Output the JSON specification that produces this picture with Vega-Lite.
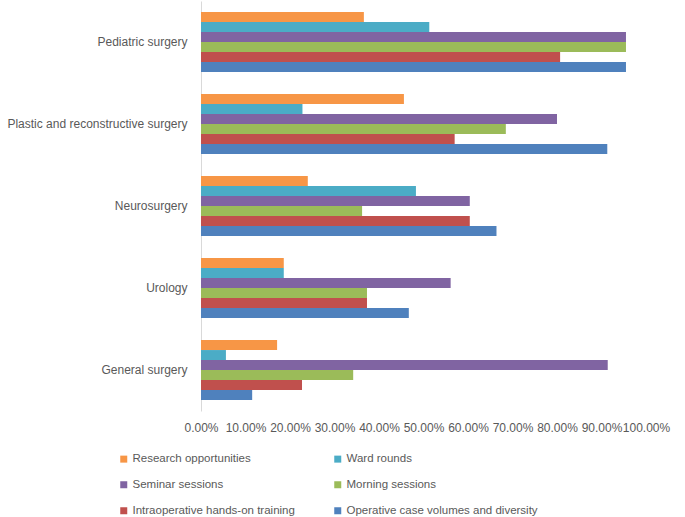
{
  "$schema": "https://vega.github.io/schema/vega-lite/v6.json",
  "width": 445,
  "height": 410,
  "autosize": {"type": "none"},
  "padding": {"left": 201, "top": 1, "right": 39, "bottom": 106},
  "config": {
    "font": "Liberation Sans",
    "view": {"stroke": null},
    "axis": {"labelColor": "#595959", "labelFont": "Liberation Sans", "labelFontSize": 12, "labelLimit": 0},
    "legend": {"labelColor": "#595959", "labelFont": "Liberation Sans", "labelFontSize": 11.5, "labelLimit": 0}
  },
  "data": {
    "values": [
      {"specialty": "Pediatric surgery", "item": "Research opportunities", "value": 0.366},
      {"specialty": "Pediatric surgery", "item": "Ward rounds", "value": 0.513},
      {"specialty": "Pediatric surgery", "item": "Seminar sessions", "value": 0.955},
      {"specialty": "Pediatric surgery", "item": "Morning sessions", "value": 0.955},
      {"specialty": "Pediatric surgery", "item": "Intraoperative hands-on training", "value": 0.807},
      {"specialty": "Pediatric surgery", "item": "Operative case volumes and diversity", "value": 0.955},
      {"specialty": "Plastic and reconstructive surgery", "item": "Research opportunities", "value": 0.456},
      {"specialty": "Plastic and reconstructive surgery", "item": "Ward rounds", "value": 0.228},
      {"specialty": "Plastic and reconstructive surgery", "item": "Seminar sessions", "value": 0.800},
      {"specialty": "Plastic and reconstructive surgery", "item": "Morning sessions", "value": 0.685},
      {"specialty": "Plastic and reconstructive surgery", "item": "Intraoperative hands-on training", "value": 0.570},
      {"specialty": "Plastic and reconstructive surgery", "item": "Operative case volumes and diversity", "value": 0.913},
      {"specialty": "Neurosurgery", "item": "Research opportunities", "value": 0.240},
      {"specialty": "Neurosurgery", "item": "Ward rounds", "value": 0.483},
      {"specialty": "Neurosurgery", "item": "Seminar sessions", "value": 0.604},
      {"specialty": "Neurosurgery", "item": "Morning sessions", "value": 0.362},
      {"specialty": "Neurosurgery", "item": "Intraoperative hands-on training", "value": 0.604},
      {"specialty": "Neurosurgery", "item": "Operative case volumes and diversity", "value": 0.664},
      {"specialty": "Urology", "item": "Research opportunities", "value": 0.186},
      {"specialty": "Urology", "item": "Ward rounds", "value": 0.186},
      {"specialty": "Urology", "item": "Seminar sessions", "value": 0.561},
      {"specialty": "Urology", "item": "Morning sessions", "value": 0.373},
      {"specialty": "Urology", "item": "Intraoperative hands-on training", "value": 0.373},
      {"specialty": "Urology", "item": "Operative case volumes and diversity", "value": 0.467},
      {"specialty": "General surgery", "item": "Research opportunities", "value": 0.171},
      {"specialty": "General surgery", "item": "Ward rounds", "value": 0.056},
      {"specialty": "General surgery", "item": "Seminar sessions", "value": 0.914},
      {"specialty": "General surgery", "item": "Morning sessions", "value": 0.342},
      {"specialty": "General surgery", "item": "Intraoperative hands-on training", "value": 0.227},
      {"specialty": "General surgery", "item": "Operative case volumes and diversity", "value": 0.115}
    ]
  },
  "mark": {"type": "bar"},
  "encoding": {
    "y": {
      "field": "specialty",
      "type": "nominal",
      "sort": ["Pediatric surgery", "Plastic and reconstructive surgery", "Neurosurgery", "Urology", "General surgery"],
      "scale": {"paddingInner": 0.27, "paddingOuter": 0.135},
      "axis": {"title": null, "ticks": false, "labelPadding": 14, "domainColor": "#d9d9d9", "domainWidth": 1}
    },
    "yOffset": {
      "field": "item",
      "type": "nominal",
      "sort": ["Research opportunities", "Ward rounds", "Seminar sessions", "Morning sessions", "Intraoperative hands-on training", "Operative case volumes and diversity"],
      "scale": {"paddingInner": 0, "paddingOuter": 0}
    },
    "x": {
      "field": "value",
      "type": "quantitative",
      "scale": {"domain": [0, 1], "nice": false},
      "axis": {"title": null, "format": ".2%", "values": [0, 0.1, 0.2, 0.3, 0.4, 0.5, 0.6, 0.7, 0.8, 0.9, 1.0], "domain": false, "ticks": false, "grid": false, "labelPadding": 11, "labelOverlap": false, "labelFlush": false}
    },
    "color": {
      "field": "item",
      "type": "nominal",
      "scale": {
        "domain": ["Research opportunities", "Seminar sessions", "Intraoperative hands-on training", "Ward rounds", "Morning sessions", "Operative case volumes and diversity"],
        "range": ["#F79646", "#8064A2", "#C0504D", "#4BACC6", "#9BBB59", "#4F81BD"]
      },
      "legend": {
        "title": null,
        "orient": "none",
        "legendX": -83,
        "legendY": 452,
        "columns": 2,
        "columnPadding": 37,
        "rowPadding": 13,
        "symbolType": "square",
        "symbolSize": 49,
        "symbolStrokeWidth": 0,
        "labelOffset": 3
      }
    }
  }
}
